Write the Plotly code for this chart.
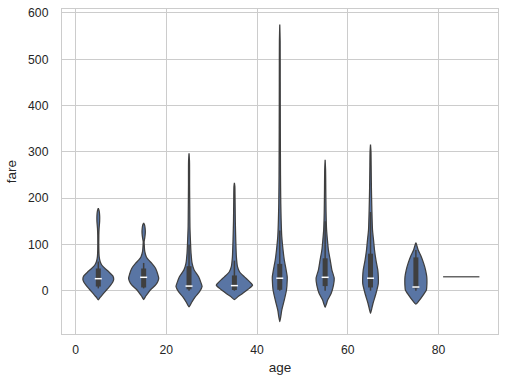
import plotly.graph_objects as go

# ---- data ----
age_centers = [5, 15, 25, 35, 45, 55, 65, 75]

fare_00 = [-20, -15, -10, -3, 5, 12, 19, 25, 32, 40, 47, 55, 63, 73, 90, 120, 135, 150, 162, 172, 178]
dens_00 = [0, 0.09, 0.2, 0.35, 0.53, 0.68, 0.8, 0.85, 0.8, 0.6, 0.4, 0.2, 0.1, 0.05, 0.03, 0.03, 0.045, 0.075, 0.075, 0.05, 0]

fare_10 = [-19, -12, -5, 2, 12, 20, 27, 35, 48, 59, 66, 73, 85, 100, 106, 114, 125, 135, 142, 146]
dens_10 = [0, 0.11, 0.24, 0.38, 0.65, 0.78, 0.83, 0.78, 0.66, 0.45, 0.28, 0.15, 0.06, 0.03, 0.025, 0.06, 0.09, 0.08, 0.05, 0]

fare_20 = [-35, -25, -13, -2, 9, 18, 30, 45, 59, 81, 110, 138, 180, 230, 260, 280, 297]
dens_20 = [0, 0.15, 0.35, 0.58, 0.72, 0.65, 0.53, 0.28, 0.17, 0.11, 0.075, 0.05, 0.04, 0.03, 0.03, 0.025, 0]

fare_30 = [-19, -12, -6, 0, 5, 12, 17, 24, 30, 41, 52, 73, 110, 150, 200, 225, 233]
dens_30 = [0, 0.22, 0.45, 0.65, 0.82, 1.0, 0.9, 0.72, 0.55, 0.28, 0.17, 0.11, 0.075, 0.05, 0.035, 0.025, 0]

fare_40 = [-67, -55, -42, -20, 1.5, 23, 30, 45, 66, 88, 117, 153, 189, 250, 350, 450, 540, 575]
dens_40 = [0, 0.06, 0.11, 0.25, 0.37, 0.41, 0.41, 0.35, 0.25, 0.18, 0.11, 0.075, 0.055, 0.04, 0.03, 0.025, 0.02, 0]

fare_50 = [-36, -28, -20, -6, 12, 27, 45, 66, 88, 110, 131, 170, 220, 260, 283]
dens_50 = [0, 0.075, 0.14, 0.33, 0.46, 0.5, 0.37, 0.28, 0.18, 0.125, 0.08, 0.05, 0.035, 0.025, 0]

fare_60 = [-49, -40, -27, -6, 16, 30, 45, 66, 88, 110, 131, 174, 220, 270, 300, 316]
dens_60 = [0, 0.06, 0.14, 0.3, 0.43, 0.43, 0.4, 0.3, 0.22, 0.165, 0.11, 0.075, 0.05, 0.035, 0.025, 0]

fare_70 = [-29, -22, -9, 1.5, 9, 20, 30, 45, 59, 75, 88, 98, 104]
dens_70 = [0, 0.165, 0.41, 0.58, 0.6, 0.61, 0.6, 0.53, 0.43, 0.28, 0.125, 0.05, 0]

# single passenger group (age 80s)
single_center = 85
single_fare = 30

whisker_lo = [5, 5, 0, 0, 0, 0, 0, 0]
box_lo = [9, 7, 3, 1.5, 2, 10, 7, 5]
median = [26, 29, 10, 11, 27, 29, 27, 8]
box_hi = [48, 48, 53, 33, 58, 70, 80, 72]
whisker_hi = [63, 60, 100, 65, 130, 150, 170, 88]

x_ticks = [0, 20, 40, 60, 80]
y_ticks = [0, 100, 200, 300, 400, 500, 600]

# ---- styling ----
FILL = "#5975a4"
EDGE = "#3f3f3f"
HALF = 4.0  # max half width in age units
GRID = "#cccccc"
TXT = "#262626"
FONT = "Liberation Sans, Arial, sans-serif"

fares = [fare_00, fare_10, fare_20, fare_30, fare_40, fare_50, fare_60, fare_70]
denss = [dens_00, dens_10, dens_20, dens_30, dens_40, dens_50, dens_60, dens_70]

fig = go.Figure()

for i, c in enumerate(age_centers):
    f = fares[i]
    d = denss[i]
    xs = [c + HALF * v for v in d] + [c - HALF * v for v in reversed(d)]
    ys = list(f) + list(reversed(f))
    fig.add_trace(go.Scatter(x=xs, y=ys, mode="lines", fill="toself",
                             fillcolor=FILL, line=dict(color=EDGE, width=1.25, shape="spline", smoothing=0.6),
                             hoverinfo="skip", showlegend=False))
    # whisker
    fig.add_trace(go.Scatter(x=[c, c], y=[whisker_lo[i], whisker_hi[i]], mode="lines",
                             line=dict(color=EDGE, width=1.5), hoverinfo="skip", showlegend=False))
    # box
    fig.add_trace(go.Scatter(x=[c, c], y=[box_lo[i], box_hi[i]], mode="lines",
                             line=dict(color=EDGE, width=5), hoverinfo="skip", showlegend=False))
    # median
    fig.add_trace(go.Scatter(x=[c], y=[median[i]], mode="markers",
                             marker=dict(symbol="line-ew", size=5, line=dict(color="white", width=1.5)),
                             hoverinfo="skip", showlegend=False))

fig.add_trace(go.Scatter(x=[single_center - HALF, single_center + HALF], y=[single_fare, single_fare],
                         mode="lines", line=dict(color="#666666", width=1.5),
                         hoverinfo="skip", showlegend=False))

fig.update_layout(
    width=507, height=386,
    margin=dict(l=62, r=9, t=9, b=52, autoexpand=False),
    plot_bgcolor="white", paper_bgcolor="white",
    font=dict(family=FONT, color=TXT, size=12),
    showlegend=False,
)
fig.update_xaxes(range=[-3.0, 93.1], tickvals=x_ticks, ticktext=[str(t) for t in x_ticks],
                 showgrid=True, gridcolor=GRID, gridwidth=1, zeroline=False,
                 showline=True, mirror=True, linecolor=GRID, linewidth=1.25,
                 ticks="", ticklabelstandoff=4, tickfont=dict(size=12.2, color=TXT), automargin=False,
                 title=dict(text="age", font=dict(size=13.5, color=TXT), standoff=6))
fig.update_yaxes(range=[-93.5, 608.6], tickvals=y_ticks, ticktext=[str(t) for t in y_ticks],
                 showgrid=True, gridcolor=GRID, gridwidth=1, zeroline=False,
                 showline=True, mirror=True, linecolor=GRID, linewidth=1.25,
                 ticks="", ticklabelstandoff=10, tickfont=dict(size=12.2, color=TXT), automargin=False,
                 title=dict(text="fare", font=dict(size=13.5, color=TXT), standoff=8))

fig.write_html("out.html", config={"displayModeBar": False},
               post_script="document.body.style.margin='0';document.body.style.overflow='hidden';")
